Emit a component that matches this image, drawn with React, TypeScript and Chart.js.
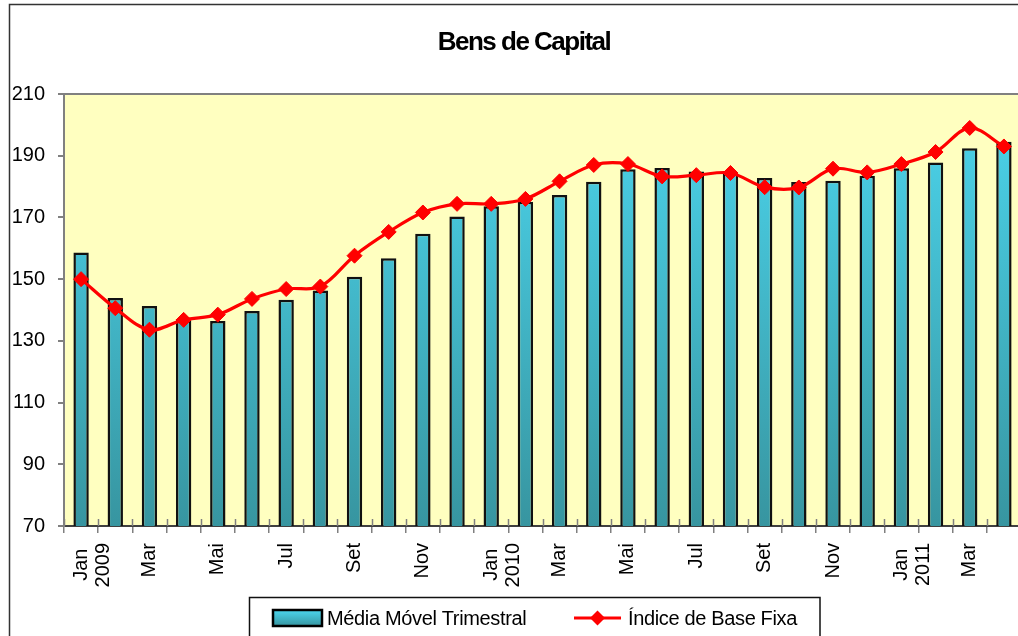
import React, { useEffect, useRef } from 'react';
import { Chart, registerables } from 'chart.js';

Chart.register(...registerables);

const TITLE = 'Bens de Capital';

const categories = [
  'Jan 2009', 'Fev', 'Mar', 'Abr', 'Mai', 'Jun', 'Jul', 'Ago', 'Set', 'Out', 'Nov', 'Dez',
  'Jan 2010', 'Fev', 'Mar', 'Abr', 'Mai', 'Jun', 'Jul', 'Ago', 'Set', 'Out', 'Nov', 'Dez',
  'Jan 2011', 'Fev', 'Mar', 'Abr',
];

const mediaMovelTrimestral = [
  158.6, 143.9, 141.3, 137.1, 136.4, 139.7, 143.3, 146.3, 150.8, 156.8, 164.7, 170.3,
  173.6, 175.1, 177.3, 181.6, 185.6, 186.0, 184.9, 184.5, 182.8, 181.5, 181.9, 183.5,
  185.9, 187.8, 192.4, 194.5,
];

const indiceBaseFixa = [
  150.0, 140.6, 133.6, 136.8, 138.5, 143.6, 146.8, 147.6, 157.6, 165.3, 171.6, 174.4,
  174.4, 176.0, 181.7, 187.0, 187.3, 183.3, 183.7, 184.4, 179.8, 179.7, 185.8, 184.6,
  187.3, 191.2, 199.0, 193.0,
];

const seriesNames = ['Média Móvel Trimestral', 'Índice de Base Fixa'];

const Y_MIN = 70;
const Y_MAX = 210;
const Y_STEP = 20;

const FONT = "'Liberation Sans', Arial, Helvetica, sans-serif";
const CANVAS_W = 1040;
const CANVAS_H = 636;

function barGradient(ctx: CanvasRenderingContext2D, top: number, bottom: number) {
  const g = ctx.createLinearGradient(0, top, 0, bottom);
  g.addColorStop(0, '#4CD6EE');
  g.addColorStop(1, '#3795A0');
  return g;
}

const decorPlugin = {
  id: 'decor',
  beforeDraw(chart: any) {
    const { ctx, chartArea: a } = chart;
    ctx.save();
    ctx.fillStyle = '#ffffff';
    ctx.fillRect(0, 0, chart.width, chart.height);
    // outer frame
    ctx.strokeStyle = '#333333';
    ctx.lineWidth = 1.5;
    ctx.strokeRect(9.5, 4.5, chart.width + 40, chart.height + 40);
    // plot background
    ctx.fillStyle = '#FFFFC0';
    ctx.fillRect(a.left, a.top, a.right - a.left, a.bottom - a.top);
    // top border of plot area
    ctx.strokeStyle = '#808080';
    ctx.lineWidth = 2;
    ctx.beginPath();
    ctx.moveTo(a.left, a.top);
    ctx.lineTo(a.right, a.top);
    ctx.stroke();
    // title
    ctx.fillStyle = '#000';
    ctx.font = `bold 26px ${FONT}`;
    (ctx as any).letterSpacing = '-1.5px';
    ctx.textAlign = 'left';
    ctx.textBaseline = 'alphabetic';
    const w = ctx.measureText(TITLE).width;
    ctx.fillText(TITLE, 524 - w / 2, 50);
    (ctx as any).letterSpacing = '0px';
    ctx.restore();
  },
  afterDraw(chart: any) {
    const { ctx, chartArea: a } = chart;
    const xs = chart.scales.x;
    ctx.save();
    // inner part of the cross tick marks on the category axis
    const half = (xs.getPixelForValue(1) - xs.getPixelForValue(0)) / 2;
    ctx.strokeStyle = '#808080';
    ctx.lineWidth = 1.5;
    for (let i = 0; i <= categories.length; i++) {
      const x = Math.round(xs.getPixelForValue(i) - half) + 0.5;
      ctx.beginPath();
      ctx.moveTo(x, a.bottom - 7);
      ctx.lineTo(x, a.bottom);
      ctx.stroke();
    }
    // legend
    const ds = chart.data.datasets;
    ctx.strokeStyle = '#111';
    ctx.lineWidth = 1.5;
    ctx.strokeRect(249.5, 597.5, 570.5, 80);
    ctx.font = `20px ${FONT}`;
    (ctx as any).letterSpacing = '-0.35px';
    ctx.textBaseline = 'middle';
    ctx.textAlign = 'left';
    // bar swatch
    ctx.fillStyle = barGradient(ctx, 610, 626);
    ctx.fillRect(273, 610, 49, 16);
    ctx.strokeStyle = '#000';
    ctx.lineWidth = 2.5;
    ctx.strokeRect(273, 610, 49, 16);
    ctx.fillStyle = '#000';
    ctx.fillText(ds[0].label, 327, 619);
    // line swatch
    ctx.strokeStyle = ds[1].borderColor;
    ctx.lineWidth = 3;
    ctx.beginPath();
    ctx.moveTo(574, 618);
    ctx.lineTo(621, 618);
    ctx.stroke();
    ctx.fillStyle = ds[1].pointBackgroundColor;
    ctx.beginPath();
    ctx.moveTo(597.5, 610.5);
    ctx.lineTo(605, 618);
    ctx.lineTo(597.5, 625.5);
    ctx.lineTo(590, 618);
    ctx.closePath();
    ctx.fill();
    ctx.fillStyle = '#000';
    ctx.fillText(ds[1].label, 628, 619);
    (ctx as any).letterSpacing = '0px';
    ctx.restore();
  },
};

export default function App() {
  const canvasRef = useRef<HTMLCanvasElement | null>(null);

  useEffect(() => {
    const canvas = canvasRef.current;
    if (!canvas) return;
    const chart = new Chart(canvas, {
      type: 'bar',
      data: {
        labels: categories,
        datasets: [
          {
            type: 'bar',
            label: seriesNames[0],
            data: mediaMovelTrimestral,
            order: 2,
            backgroundColor: (c: any) => {
              const a = c.chart.chartArea;
              if (!a) return '#42C3DA';
              return barGradient(c.chart.ctx, a.top, a.bottom);
            },
            borderColor: '#111111',
            borderWidth: 2.5,
            borderSkipped: false,
            barPercentage: 0.45,
            categoryPercentage: 1,
          },
          {
            type: 'line',
            label: seriesNames[1],
            data: indiceBaseFixa,
            order: 1,
            borderColor: '#FF0000',
            borderWidth: 3.2,
            tension: 0.35,
            pointStyle: 'rectRot',
            pointRadius: 7.5,
            pointBackgroundColor: '#FF0000',
            pointBorderColor: '#FF0000',
            pointBorderWidth: 1,
          },
        ],
      } as any,
      options: {
        animation: false,
        responsive: false,
        devicePixelRatio: 1,
        layout: { padding: { left: 8, right: 19, top: 94, bottom: 0 } },
        plugins: {
          legend: { display: false },
          title: { display: false },
          tooltip: { enabled: false },
        },
        scales: {
          x: {
            offset: true,
            grid: {
              offset: true,
              drawOnChartArea: false,
              drawTicks: true,
              tickLength: 7,
              color: '#808080',
              lineWidth: 1.5,
            },
            border: { display: true, color: '#404040', width: 2 },
            ticks: {
              autoSkip: false,
              minRotation: 90,
              maxRotation: 90,
              padding: 10,
              color: '#000',
              font: { family: FONT, size: 20, lineHeight: 1.1 },
              callback: (_v: any, index: number) => {
                if (index % 2 !== 0) return '';
                const parts = categories[index].split(' ');
                // centre the short month line against the longer year line
                return parts.length > 1 ? [parts[0] + ' ', parts[1]] : parts[0];
              },
            },
            afterFit: (scale: any) => {
              scale.height = 110;
            },
          },
          y: {
            min: Y_MIN,
            max: Y_MAX,
            grid: {
              drawOnChartArea: false,
              drawTicks: true,
              tickLength: 6,
              color: '#808080',
              lineWidth: 2,
            },
            border: { display: true, color: '#808080', width: 2 },
            ticks: {
              stepSize: Y_STEP,
              padding: 13,
              color: '#000',
              font: { family: FONT, size: 20 },
            },
            afterFit: (scale: any) => {
              scale.width = 56;
            },
          },
        },
      } as any,
      plugins: [decorPlugin],
    });
    return () => chart.destroy();
  }, []);

  return (
    <div
      style={{
        position: 'fixed',
        left: 0,
        top: 0,
        width: 1018,
        height: 636,
        overflow: 'hidden',
        background: '#fff',
      }}
    >
      <canvas
        ref={canvasRef}
        width={CANVAS_W}
        height={CANVAS_H}
        style={{ width: CANVAS_W, height: CANVAS_H, display: 'block' }}
      />
    </div>
  );
}
